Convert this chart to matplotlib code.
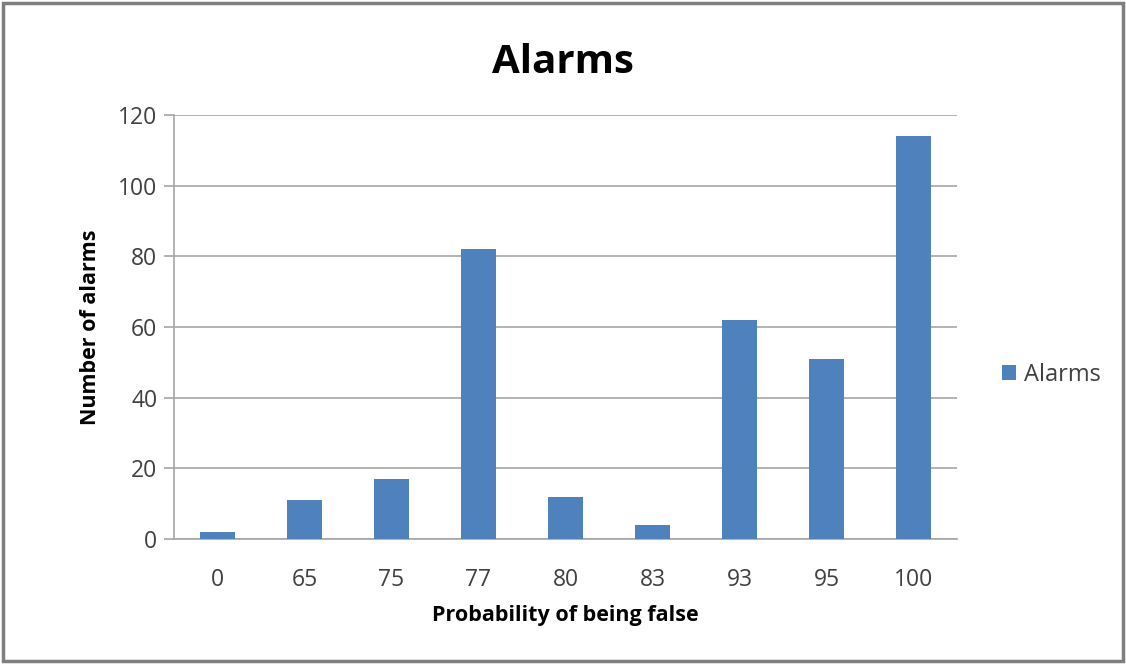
import matplotlib.pyplot as plt
from matplotlib.patches import Rectangle

# alarm counts per probability bucket
probabilities = ["0", "65", "75", "77", "80", "83", "93", "95", "100"]
alarms = [2, 11, 17, 82, 12, 4, 62, 51, 114]
y_ticks = [0, 20, 40, 60, 80, 100, 120]

BAR_COLOR = "#4F81BD"
GRID_COLOR = "#A6A6A6"
TEXT_COLOR = "#404040"

plt.rcParams["font.family"] = ["Open Sans", "DejaVu Sans"]

fig = plt.figure(figsize=(11.26, 6.64), dpi=100)
ax = fig.add_axes([0.1545, 0.1883, 0.6954, 0.6385])

x = range(len(probabilities))
ax.bar(x, alarms, width=0.4, color=BAR_COLOR, label="Alarms", zorder=3)

ax.set_xlim(-0.5, len(probabilities) - 0.5)
ax.set_ylim(0, 120)
ax.set_yticks(y_ticks)
ax.set_xticks(list(x))
ax.set_xticklabels(probabilities)

ax.grid(axis="y", color=GRID_COLOR, linewidth=1.2, zorder=0)
for side in ["top", "right"]:
    ax.spines[side].set_visible(False)
ax.spines["left"].set_color(GRID_COLOR)
ax.spines["bottom"].set_color(GRID_COLOR)
ax.spines["left"].set_linewidth(1.2)
ax.spines["bottom"].set_linewidth(1.2)

ax.tick_params(axis="y", length=7, color=GRID_COLOR, width=1.2,
               labelsize=16.5, labelcolor=TEXT_COLOR, pad=5)
ax.tick_params(axis="x", length=0, labelsize=16.5, labelcolor=TEXT_COLOR, pad=21)

ax.set_xlabel("Probability of being false", fontsize=15.5, fontweight="bold",
              color="black", labelpad=9)
ax.set_ylabel("Number of alarms", fontsize=15.5, fontweight="bold",
              color="black", labelpad=12)

fig.text(0.5, 0.906, "Alarms", ha="center", va="center",
         fontsize=29, fontweight="bold")

leg = ax.legend(loc="center left", bbox_to_anchor=(1.03, 0.387), frameon=False,
                fontsize=17, handlelength=0.6, handleheight=0.6,
                handletextpad=0.35)
for t in leg.get_texts():
    t.set_color(TEXT_COLOR)

# outer frame
fig.patches.append(Rectangle((0.003, 0.005), 0.994, 0.99, transform=fig.transFigure,
                             fill=False, edgecolor="#7F7F7F", linewidth=2.5))

fig.savefig("out.png", dpi=100)
